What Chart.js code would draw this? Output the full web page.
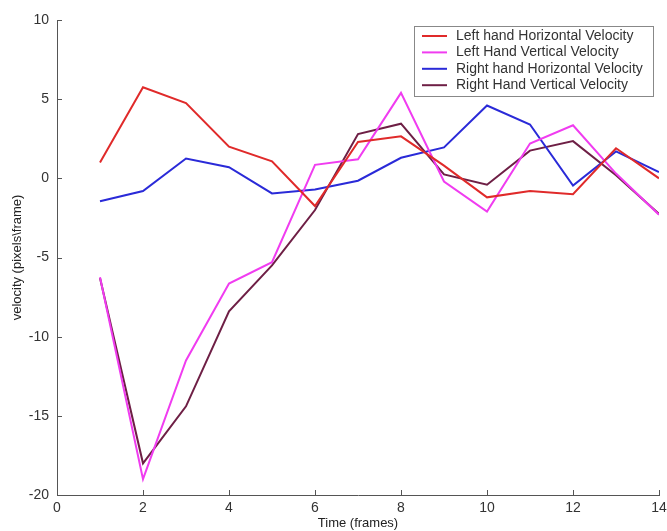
<!DOCTYPE html>
<html>
<head>
<meta charset="utf-8">
<script src="https://cdn.jsdelivr.net/npm/chart.js@4"></script>
<style>
  html, body { margin: 0; padding: 0; background: #fff; }
  #wrap { width: 667px; height: 531px; }
</style>
</head>
<body>
<div id="wrap"><canvas id="velChart" width="667" height="531"></canvas></div>
<script>
var frames = [1, 2, 3, 4, 5, 6, 7, 8, 9, 10, 11, 12, 13, 14];

var leftHorizontal  = [1.0, 5.75, 4.75, 2.0, 1.07, -1.75, 2.3, 2.65, 0.8, -1.2, -0.8, -1.0, 1.9, 0.0];
var leftVertical    = [-6.25, -19.0, -11.5, -6.65, -5.3, 0.85, 1.2, 5.4, -0.2, -2.1, 2.2, 3.35, 0.3, -2.3];
var rightHorizontal = [-1.45, -0.8, 1.25, 0.7, -0.95, -0.7, -0.15, 1.3, 1.95, 4.6, 3.4, -0.45, 1.7, 0.4];
var rightVertical   = [-6.3, -18.0, -14.4, -8.4, -5.5, -2.0, 2.8, 3.45, 0.25, -0.4, 1.75, 2.35, 0.2, -2.25];

var seriesNames = ['Left hand Horizontal Velocity', 'Left Hand Vertical Velocity',
                   'Right hand Horizontal Velocity', 'Right Hand Vertical Velocity'];
var seriesColors = ['#e02a2a', '#f03cf0', '#2a2ad8', '#6e1f45'];

function toPoints(values) {
    var pts = [];
    for (var i = 0; i < frames.length; i++) {
        pts.push({ x: frames[i], y: values[i] });
    }
    return pts;
}

var allSeries = [leftHorizontal, leftVertical, rightHorizontal, rightVertical];
var datasets = [];
for (var s = 0; s < allSeries.length; s++) {
    datasets.push({
        label: seriesNames[s],
        data: toPoints(allSeries[s]),
        borderColor: seriesColors[s],
        backgroundColor: seriesColors[s],
        borderWidth: 2,
        pointRadius: 0,
        tension: 0,
        fill: false
    });
}

// ticks pointing into the plot, like the original
var inwardTicks = {
    id: 'inwardTicks',
    afterDraw: function(chart) {
        var ctx = chart.ctx;
        var xs = chart.scales.x, ys = chart.scales.y;
        var area = chart.chartArea;
        ctx.save();
        ctx.strokeStyle = '#555';
        ctx.lineWidth = 1;
        ctx.beginPath();
        xs.ticks.forEach(function(t) {
            var px = Math.round(xs.getPixelForValue(t.value)) + 0.5;
            ctx.moveTo(px, area.bottom);
            ctx.lineTo(px, area.bottom - 5);
        });
        ys.ticks.forEach(function(t) {
            var py = Math.round(ys.getPixelForValue(t.value)) + 0.5;
            ctx.moveTo(area.left, py);
            ctx.lineTo(area.left + 5, py);
        });
        ctx.stroke();
        ctx.restore();
    }
};

// boxed legend in the top-right corner of the plot
var boxLegend = {
    id: 'boxLegend',
    afterDraw: function(chart) {
        var ctx = chart.ctx;
        var left = 414, top = 26, w = 239, h = 70;
        ctx.save();
        ctx.fillStyle = '#fff';
        ctx.fillRect(left, top, w, h);
        ctx.strokeStyle = '#888';
        ctx.lineWidth = 1;
        ctx.strokeRect(left + 0.5, top + 0.5, w, h);
        ctx.font = '14px "Liberation Sans", Arial, sans-serif';
        ctx.textBaseline = 'middle';
        chart.data.datasets.forEach(function(ds, i) {
            var cy = top + 10 + i * 16.4;
            ctx.strokeStyle = ds.borderColor;
            ctx.lineWidth = 2;
            ctx.beginPath();
            ctx.moveTo(422, cy);
            ctx.lineTo(447, cy);
            ctx.stroke();
            ctx.fillStyle = '#333';
            ctx.fillText(ds.label, 456, cy);
        });
        ctx.restore();
    }
};

var tickFont = { family: '"Liberation Sans", Arial, sans-serif', size: 14 };
var titleFont = { family: '"Liberation Sans", Arial, sans-serif', size: 13 };

new Chart(document.getElementById('velChart'), {
    type: 'line',
    data: { datasets: datasets },
    plugins: [inwardTicks, boxLegend],
    options: {
        responsive: false,
        animation: false,
        layout: { padding: { top: 20, right: 8, bottom: 0, left: 0 } },
        plugins: {
            legend: { display: false },
            tooltip: { enabled: false }
        },
        scales: {
            x: {
                type: 'linear',
                min: 0,
                max: 14,
                ticks: { stepSize: 2, color: '#333', font: tickFont, padding: -3, maxRotation: 0 },
                grid: { display: false },
                border: { display: true, color: '#555', width: 1 },
                title: {
                    display: true,
                    text: 'Time (frames)',
                    color: '#222',
                    font: titleFont,
                    padding: { top: 0, bottom: 0 }
                },
                afterFit: function(scale) { scale.height = 36; }
            },
            y: {
                min: -20,
                max: 10,
                ticks: { stepSize: 5, color: '#333', font: tickFont, padding: 0 },
                grid: { display: false },
                border: { display: true, color: '#555', width: 1 },
                title: {
                    display: true,
                    text: 'velocity (pixels\\frame)',
                    color: '#222',
                    font: titleFont,
                    padding: { top: 10, bottom: 0 }
                },
                afterFit: function(scale) { scale.width = 57; }
            }
        }
    }
});
</script>
</body>
</html>
